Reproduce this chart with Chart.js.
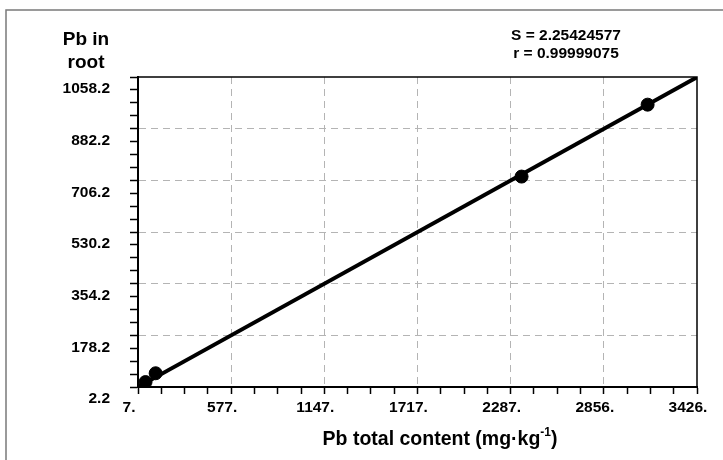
<!DOCTYPE html>
<html>
<head>
<meta charset="utf-8">
<script src="https://cdn.jsdelivr.net/npm/chart.js@4.4.1/dist/chart.umd.min.js"></script>
<style>
  html, body { margin: 0; padding: 0; background: #ffffff; }
  #wrap { width: 723px; height: 460px; position: relative; }
</style>
</head>
<body>
<div id="wrap"><canvas id="c" width="723" height="460"></canvas></div>
<script>
// Measured Pb: total soil content vs. content in root (mg·kg-1)
const totalContent = [53, 115, 2353, 3124];
const rootContent = [19, 49, 719, 964];

// Fitted line end points
const fitX = [7, 3426];
const fitY = [2.5, 1057.5];

// Axis tick labels (major ticks), each major interval split in 4 minor steps
const xTickLabels = ['7.', '577.', '1147.', '1717.', '2287.', '2856.', '3426.'];
const yTickLabels = ['2.2', '178.2', '354.2', '530.2', '706.2', '882.2', '1058.2'];
const xRange = [7, 3426];
const yRange = [2.2, 1058.2];
const minorSteps = 4;

// Text
const statsLines = ['S = 2.25424577', 'r = 0.99999075'];
const yTitleLines = ['Pb in', 'root'];
const xTitleMain = 'Pb total content (mg·kg';
const xTitleSup = '-1';
const xTitleEnd = ')';

const FONT = '"Liberation Sans", Arial, sans-serif';

function buildTicks(scale, range, labels) {
  const n = (labels.length - 1) * minorSteps;
  const ticks = [];
  for (let i = 0; i <= n; i++) {
    ticks.push({ value: range[0] + (range[1] - range[0]) * i / n });
  }
  scale.ticks = ticks;
}

function gridColor(labels) {
  const n = (labels.length - 1) * minorSteps;
  return (ctx) => {
    const i = ctx.index;
    if (i === undefined) return 'transparent';
    if (i % minorSteps !== 0 || i === 0 || i === n) return 'transparent';
    return '#b4b4b4';
  };
}

const decorations = {
  id: 'decorations',
  beforeDraw(chart) {
    const ctx = chart.ctx;
    ctx.save();
    ctx.fillStyle = '#ffffff';
    ctx.fillRect(0, 0, chart.width, chart.height);
    // outer frame
    ctx.strokeStyle = '#7a7a7a';
    ctx.lineWidth = 1.5;
    ctx.strokeRect(6, 10, chart.width + 10, chart.height + 10);
    ctx.restore();
  },
  afterDraw(chart) {
    const ctx = chart.ctx;
    const a = chart.chartArea;
    ctx.save();
    // top and right edges of the plot box
    ctx.strokeStyle = '#000000';
    ctx.lineWidth = 1.5;
    ctx.beginPath();
    ctx.moveTo(a.left, a.top);
    ctx.lineTo(a.right, a.top);
    ctx.lineTo(a.right, a.bottom);
    ctx.stroke();

    ctx.fillStyle = '#000000';
    ctx.textAlign = 'center';
    ctx.textBaseline = 'middle';

    // y axis title
    ctx.font = 'bold 19px ' + FONT;
    ctx.fillText(yTitleLines[0], 86, 40);
    ctx.fillText(yTitleLines[1], 86, 63);

    // statistics
    ctx.font = 'bold 15.5px ' + FONT;
    ctx.fillText(statsLines[0], 566, 36);
    ctx.fillText(statsLines[1], 566, 54);

    // x axis title with superscript
    const mainFont = 'bold 19.5px ' + FONT;
    const supFont = 'bold 12px ' + FONT;
    ctx.font = mainFont;
    const w1 = ctx.measureText(xTitleMain).width;
    const w3 = ctx.measureText(xTitleEnd).width;
    ctx.font = supFont;
    const w2 = ctx.measureText(xTitleSup).width;
    const total = w1 + w2 + w3;
    let x = 440 - total / 2;
    const y = 440;
    ctx.textAlign = 'left';
    ctx.font = mainFont;
    ctx.fillText(xTitleMain, x, y);
    x += w1;
    ctx.font = supFont;
    ctx.fillText(xTitleSup, x, y - 7);
    x += w2;
    ctx.font = mainFont;
    ctx.fillText(xTitleEnd, x, y);
    ctx.restore();
  }
};

new Chart(document.getElementById('c'), {
  type: 'scatter',
  data: {
    datasets: [
      {
        type: 'line',
        data: fitX.map((x, i) => ({ x: x, y: fitY[i] })),
        borderColor: '#000000',
        borderWidth: 4,
        pointRadius: 0,
        showLine: true,
        fill: false,
        order: 2
      },
      {
        data: totalContent.map((x, i) => ({ x: x, y: rootContent[i] })),
        backgroundColor: '#000000',
        borderColor: '#000000',
        pointRadius: 6.5,
        pointHoverRadius: 6.5,
        order: 1
      }
    ]
  },
  options: {
    responsive: false,
    animation: false,
    devicePixelRatio: 1,
    layout: { padding: { left: 0, top: 77, right: 26, bottom: 0 } },
    plugins: { legend: { display: false }, tooltip: { enabled: false } },
    scales: {
      x: {
        type: 'linear',
        min: xRange[0],
        max: xRange[1],
        afterBuildTicks: (s) => buildTicks(s, xRange, xTickLabels),
        afterFit: (s) => { s.height = 73; },
        grid: {
          color: gridColor(xTickLabels),
          lineWidth: 1,
          tickColor: '#000000',
          tickLength: 7,
          tickWidth: 1.5
        },
        border: { display: true, color: '#000000', width: 2, dash: [7, 5] },
        ticks: {
          autoSkip: false,
          maxRotation: 0,
          padding: 4,
          labelOffset: -9,
          color: '#000000',
          font: { family: FONT, size: 15.5, weight: 'bold' },
          callback: (v, i) => (i % minorSteps === 0 ? xTickLabels[i / minorSteps] : '')
        }
      },
      y: {
        type: 'linear',
        min: yRange[0],
        max: yRange[1],
        afterBuildTicks: (s) => buildTicks(s, yRange, yTickLabels),
        afterFit: (s) => { s.width = 138; },
        grid: {
          color: gridColor(yTickLabels),
          lineWidth: 1,
          tickColor: '#000000',
          tickLength: 8,
          tickWidth: 1.5
        },
        border: { display: true, color: '#000000', width: 2, dash: [7, 5] },
        ticks: {
          autoSkip: false,
          padding: 20,
          labelOffset: 12,
          color: '#000000',
          font: { family: FONT, size: 15.5, weight: 'bold' },
          callback: (v, i) => (i % minorSteps === 0 ? yTickLabels[i / minorSteps] : '')
        }
      }
    }
  },
  plugins: [decorations]
});
</script>
</body>
</html>
